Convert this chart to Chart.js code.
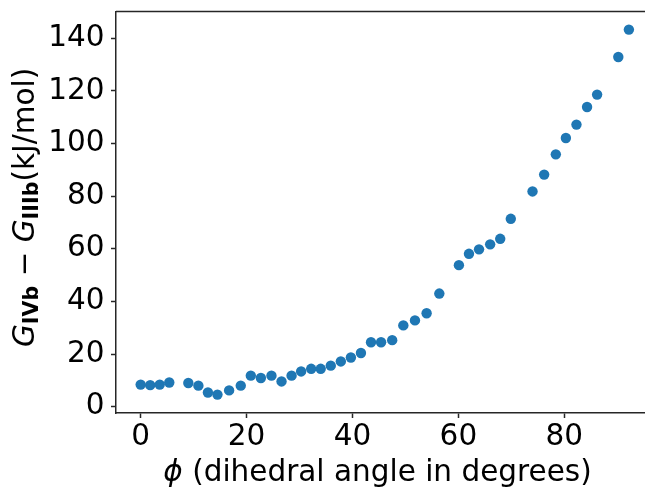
<!DOCTYPE html>
<html>
<head>
<meta charset="utf-8">
<script src="https://cdn.jsdelivr.net/npm/chart.js@4.4.0/dist/chart.umd.min.js"></script>
<style>
  html, body { margin: 0; padding: 0; background: #fff; overflow: hidden; }
  #wrap { width: 700px; height: 488px; position: relative; }
</style>
</head>
<body>
<div id="wrap"><canvas id="grafico"></canvas></div>
<script>
// dados
const anguloPhi = [0, 1.8, 3.6, 5.4, 9.0, 10.9, 12.7, 14.5, 16.7, 18.9,
  20.8, 22.7, 24.7, 26.6, 28.5, 30.3, 32.2, 34.0, 35.9, 37.8,
  39.7, 41.6, 43.5, 45.4, 47.5, 49.6, 51.8, 54.0, 56.4, 60.1,
  62.0, 63.9, 66.0, 67.9, 69.9, 74.0, 76.2, 78.4, 80.3, 82.3,
  84.3, 86.2, 90.2, 92.2];
const deltaG = [8.4, 8.2, 8.4, 9.2, 9.0, 8.0, 5.4, 4.6, 6.2, 8.0,
  11.8, 10.9, 11.8, 9.6, 11.8, 13.4, 14.4, 14.4, 15.6, 17.2,
  18.7, 20.4, 24.5, 24.5, 25.3, 30.9, 32.8, 35.5, 43.0, 53.8,
  58.1, 59.8, 61.7, 63.8, 71.4, 81.8, 88.2, 95.9, 102.1, 107.2,
  113.9, 118.6, 132.9, 143.3];
const ticksX = [0, 20, 40, 60, 80];
const ticksY = [0, 20, 40, 60, 80, 100, 120, 140];

const corPonto = '#1f77b4';
const corEixo = '#262626';
const fonte = '"DejaVu Sans", sans-serif';
const tamFonte = 29.5;

// rótulos dos eixos desenhados à mão (itálico / subscrito em negrito)
const rotulosEixos = {
  id: 'rotulosEixos',
  afterDraw(chart) {
    const ctx = chart.ctx;
    const area = chart.chartArea;
    ctx.save();
    ctx.fillStyle = '#000';
    ctx.textBaseline = 'alphabetic';

    // linha superior (spine)
    ctx.strokeStyle = corEixo;
    ctx.lineWidth = 1.5;
    ctx.beginPath();
    ctx.moveTo(area.left, area.top);
    ctx.lineTo(chart.width, area.top);
    ctx.stroke();

    // eixo x
    const partesX = [
      { t: 'ϕ', f: `italic ${tamFonte}px ${fonte}` },
      { t: ' (dihedral angle in degrees)', f: `${tamFonte}px ${fonte}` }
    ];
    let larg = 0;
    partesX.forEach(p => { ctx.font = p.f; larg += ctx.measureText(p.t).width; });
    let x = 377.5 - larg / 2;
    partesX.forEach(p => {
      ctx.font = p.f;
      ctx.fillText(p.t, x, 481);
      x += ctx.measureText(p.t).width;
    });

    // eixo y
    const sub = tamFonte * 0.7;
    const partesY = [
      { t: 'G', f: `italic ${tamFonte}px ${fonte}`, dy: 0 },
      { t: 'IVb', f: `bold ${sub}px ${fonte}`, dy: 4 },
      { t: ' \u2212 ', f: `${tamFonte}px ${fonte}`, dy: 0 },
      { t: 'G', f: `italic ${tamFonte}px ${fonte}`, dy: 0 },
      { t: 'IIIb', f: `bold ${sub}px ${fonte}`, dy: 4 },
      { t: '(kJ/mol)', f: `${tamFonte}px ${fonte}`, dy: 0 }
    ];
    ctx.translate(34, 347);
    ctx.rotate(-Math.PI / 2);
    let pos = 0;
    partesY.forEach(p => {
      ctx.font = p.f;
      ctx.fillText(p.t, pos, p.dy);
      pos += ctx.measureText(p.t).width;
    });
    ctx.restore();
  }
};

const ctxGrafico = document.getElementById('grafico').getContext('2d');
new Chart(ctxGrafico, {
  type: 'scatter',
  data: {
    datasets: [{
      data: anguloPhi.map((v, i) => ({ x: v, y: deltaG[i] })),
      backgroundColor: corPonto,
      borderColor: corPonto,
      borderWidth: 0,
      pointRadius: 5.2,
      pointHoverRadius: 5.2
    }]
  },
  options: {
    responsive: true,
    maintainAspectRatio: false,
    animation: false,
    layout: { autoPadding: false, padding: { top: 11.5, right: 0, bottom: 0, left: 0 } },
    plugins: {
      legend: { display: false },
      tooltip: { enabled: false }
    },
    scales: {
      x: {
        type: 'linear',
        min: -4.66,
        max: 105.63,
        afterBuildTicks: (s) => { s.ticks = ticksX.map(v => ({ value: v })); },
        afterFit: (s) => { s.height = 75; s.paddingLeft = 0; s.paddingRight = 0; },
        grid: { drawOnChartArea: false, drawTicks: true, tickLength: 5, tickColor: corEixo, tickWidth: 1.5 },
        border: { display: true, color: corEixo, width: 1.5 },
        ticks: { color: '#000', padding: 2, maxRotation: 0, font: { family: fonte, size: tamFonte } }
      },
      y: {
        type: 'linear',
        min: -2.39,
        max: 150.18,
        afterBuildTicks: (s) => { s.ticks = ticksY.map(v => ({ value: v })); },
        afterFit: (s) => { s.width = 116; s.paddingTop = 0; s.paddingBottom = 0; },
        grid: { drawOnChartArea: false, drawTicks: true, tickLength: 5, tickColor: corEixo, tickWidth: 1.5 },
        border: { display: true, color: corEixo, width: 1.5 },
        ticks: { color: '#000', padding: 6.5, font: { family: fonte, size: tamFonte } }
      }
    }
  },
  plugins: [rotulosEixos]
});
</script>
</body>
</html>
